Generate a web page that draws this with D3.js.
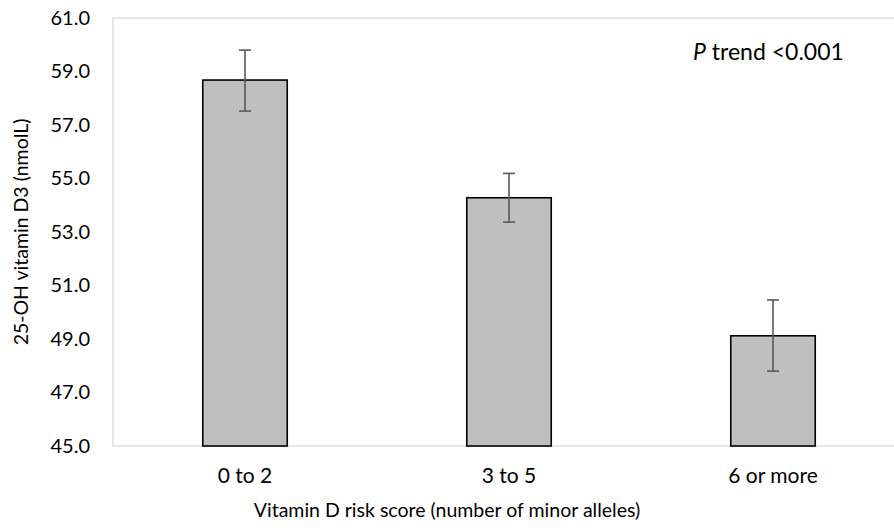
<!DOCTYPE html>
<html>
<head>
<meta charset="utf-8">
<script src="https://cdn.jsdelivr.net/npm/d3@7"></script>
<style>
  body { margin: 0; background: #fff; }
  svg { display: block; overflow: hidden; }
  text { font-family: Lato, "Open Sans", sans-serif; fill: #000; }
</style>
</head>
<body>
<script>
const groups = ['0 to 2', '3 to 5', '6 or more']
const means = [58.68, 54.28, 49.12]
const lower = [57.52, 53.37, 47.80]
const upper = [59.80, 55.19, 50.46]
const yTicks = [45, 47, 49, 51, 53, 55, 57, 59, 61]

const data = groups.map((g, i) => ({group: g, mean: means[i], lo: lower[i], hi: upper[i]}))

const margin = {top: 18, left: 113}
const plotW = 792, plotH = 428

const svg = d3.select('body').append('svg')
  .attr('width', 894)
  .attr('height', 530)

const scaleX = d3.scaleBand()
  .domain(groups)
  .range([0, plotW])
  .paddingInner(0.68)
  .paddingOuter(0.34)

const scaleY = d3.scaleLinear()
  .domain([45, 61])
  .range([plotH, 0])

const g = svg.append('g').attr('transform', `translate(${margin.left},${margin.top})`)

// plot area border
g.append('rect')
  .attr('x', 0).attr('y', 0)
  .attr('width', plotW).attr('height', plotH)
  .attr('fill', 'none')
  .attr('stroke', '#d9d9d9')
  .attr('stroke-width', 1.3)

// y axis labels only
const axisY = d3.axisLeft(scaleY)
  .tickValues(yTicks)
  .tickFormat(d3.format('.1f'))
  .tickSize(0)
  .tickPadding(23)
g.append('g').call(axisY)
  .call(a => a.select('.domain').remove())
  .selectAll('text')
  .style('font-size', '20px')
  .style('font-family', 'Lato, "Open Sans", sans-serif')

const axisX = d3.axisBottom(scaleX).tickSize(0).tickPadding(22)
g.append('g').attr('transform', `translate(0,${plotH})`).call(axisX)
  .call(a => a.select('.domain').remove())
  .selectAll('text')
  .style('font-size', '21px')
  .style('font-family', 'Lato, "Open Sans", sans-serif')

// bars
g.selectAll('rect.bar')
  .data(data)
  .enter()
  .append('rect')
  .attr('class', 'bar')
  .attr('x', d => scaleX(d.group))
  .attr('y', d => scaleY(d.mean))
  .attr('width', scaleX.bandwidth())
  .attr('height', d => plotH - scaleY(d.mean))
  .attr('fill', '#bfbfbf')
  .attr('stroke', '#000')
  .attr('stroke-width', 1.6)

// error bars
const err = g.selectAll('g.err').data(data).enter().append('g').attr('class', 'err')
  .attr('stroke', '#595959').attr('stroke-width', 1.6)
const cx = d => scaleX(d.group) + scaleX.bandwidth() / 2
err.append('line')
  .attr('x1', cx).attr('x2', cx)
  .attr('y1', d => scaleY(d.hi)).attr('y2', d => scaleY(d.lo))
err.append('line')
  .attr('x1', d => cx(d) - 6).attr('x2', d => cx(d) + 6)
  .attr('y1', d => scaleY(d.hi)).attr('y2', d => scaleY(d.hi))
err.append('line')
  .attr('x1', d => cx(d) - 6).attr('x2', d => cx(d) + 6)
  .attr('y1', d => scaleY(d.lo)).attr('y2', d => scaleY(d.lo))

// annotation
const ann = svg.append('text')
  .attr('x', 693).attr('y', 60)
  .style('font-size', '23px')
ann.append('tspan').style('font-style', 'italic').text('P')
ann.append('tspan').text(' trend <0.001')

// axis titles
svg.append('text')
  .attr('x', 447).attr('y', 517)
  .attr('text-anchor', 'middle')
  .style('font-size', '19.5px')
  .text('Vitamin D risk score (number of minor alleles)')

svg.append('text')
  .attr('transform', 'translate(28,232) rotate(-90)')
  .attr('text-anchor', 'middle')
  .style('font-size', '19.5px')
  .text('25-OH vitamin D3 (nmolL)')
</script>
</body>
</html>
